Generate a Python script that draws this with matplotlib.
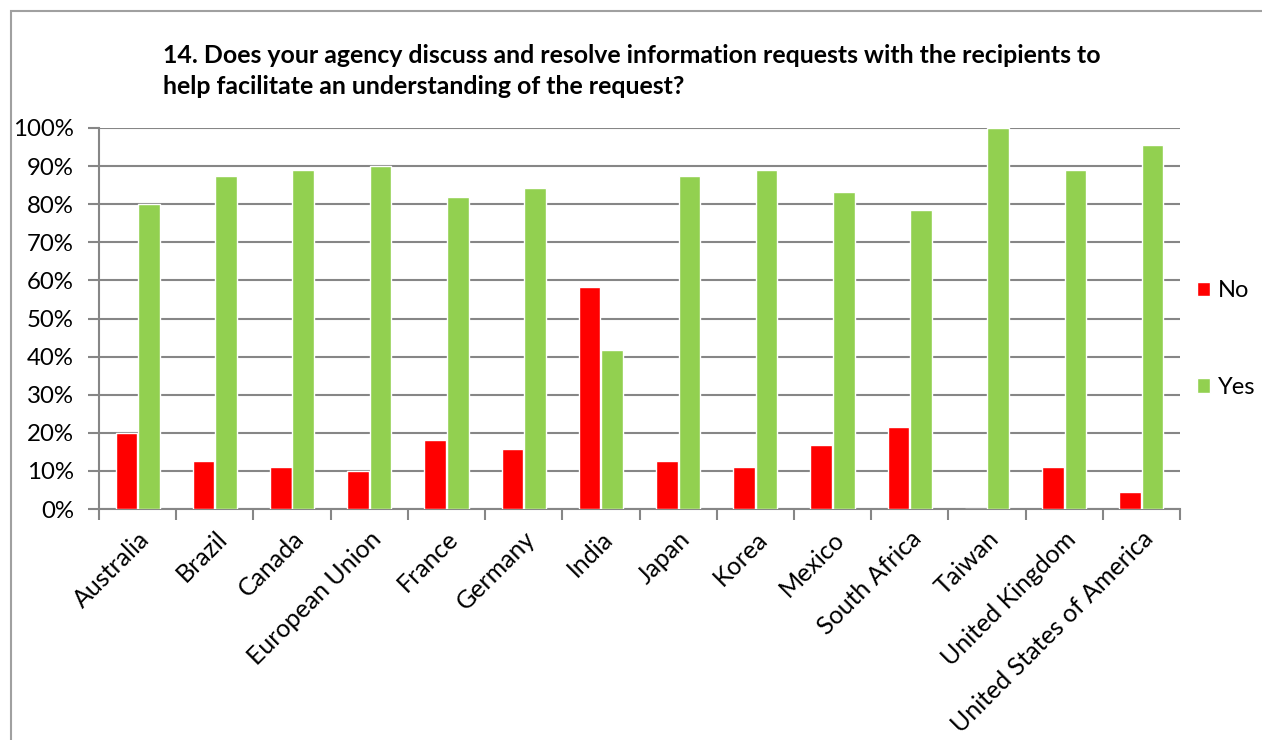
import matplotlib
matplotlib.use("Agg")
import matplotlib.pyplot as plt
from matplotlib.patches import Rectangle
import numpy as np

plt.rcParams['font.family'] = ['Lato', 'DejaVu Sans']

categories = ["Australia", "Brazil", "Canada", "European Union", "France", "Germany",
              "India", "Japan", "Korea", "Mexico", "South Africa", "Taiwan",
              "United Kingdom", "United States of America"]
no_vals = [20.0, 12.5, 11.1, 10.0, 18.2, 15.8, 58.3, 12.5, 11.1, 16.7, 21.4, 0.0, 11.1, 4.5]
yes_vals = [80.0, 87.5, 88.9, 90.0, 81.8, 84.2, 41.7, 87.5, 88.9, 83.3, 78.6, 100.0, 88.9, 95.5]
yticks = [0, 10, 20, 30, 40, 50, 60, 70, 80, 90, 100]
title = ("14. Does your agency discuss and resolve information requests with the recipients to\n"
         "help facilitate an understanding of the request?")

fig = plt.figure(figsize=(12.62, 7.40), dpi=100)
ax = fig.add_axes([99/1262, 1 - 509/740, (1180 - 99)/1262, (509 - 128)/740])

x = np.arange(len(categories))
w = 0.28
ax.bar(x - 0.146, no_vals, width=w, color="#FF0000", edgecolor="white", linewidth=1, label="No", zorder=3)
ax.bar(x + 0.146, yes_vals, width=w, color="#92D050", edgecolor="white", linewidth=1, label="Yes", zorder=3)

ax.set_xlim(-0.5, len(categories) - 0.5)
ax.set_ylim(0, 100)
ax.set_yticks(yticks)
ax.set_yticklabels([f"{v}%" for v in yticks], fontsize=17.3)
ax.yaxis.grid(True, color="#868686", linewidth=1.5, zorder=0)
ax.set_axisbelow(True)

ax.set_xticks(x)
ax.set_xticklabels(categories, rotation=45, ha="right", rotation_mode="anchor", fontsize=18)
ax.tick_params(axis="x", which="major", length=0, pad=13)
ax.set_xticks(np.arange(-0.5, len(categories), 1.0), minor=True)
ax.tick_params(axis="x", which="minor", length=8, width=1.5, color="#868686")
ax.tick_params(axis="y", length=8, width=1.5, color="#868686", pad=10)

for s in ["top", "right"]:
    ax.spines[s].set_visible(False)
for s in ["left", "bottom"]:
    ax.spines[s].set_color("#868686")
    ax.spines[s].set_linewidth(1.5)

fig.text(163/1262, 1 - 71/740, title, fontsize=17.9, fontweight="bold", va="center", ha="left",
         linespacing=1.38)

handles, labels = ax.get_legend_handles_labels()
fig.legend(handles, labels, loc="center left", bbox_to_anchor=(1197/1262, 1 - 339/740),
           frameon=False, fontsize=17, borderpad=0, borderaxespad=0,
           handlelength=0.55, handleheight=0.55, handletextpad=0.34, labelspacing=3.2)

fig.patches.append(Rectangle((11/1262, -0.1), 1.2, 1 - 11/740 + 0.1, transform=fig.transFigure,
                             fill=False, edgecolor="#A0A0A0", linewidth=1.5))

fig.savefig("out.png", dpi=100)
